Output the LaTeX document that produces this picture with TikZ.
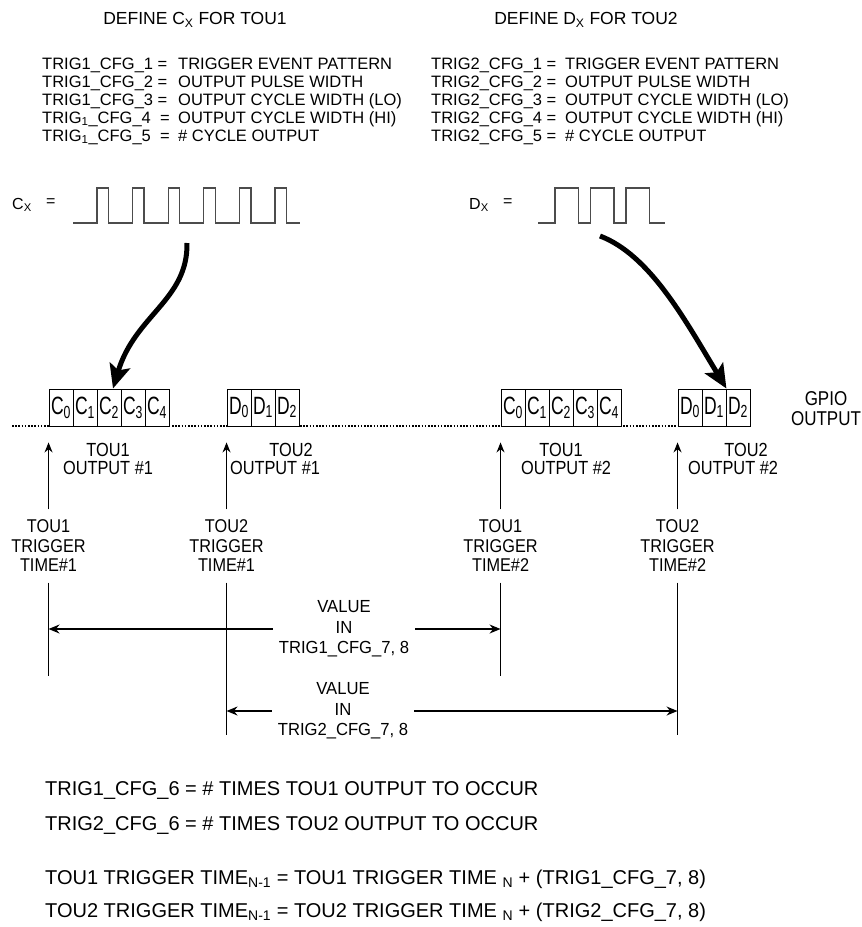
\documentclass[tikz,border=0pt]{standalone}
\usepackage{fontspec}
\setmainfont{Liberation Sans}
\usepackage{graphicx}
\usetikzlibrary{arrows.meta,calc}

\newcommand{\nar}[2]{\scalebox{#1}[1]{#2}}

\tikzset{
	cfgtext/.style={anchor=west, inner sep=0pt, text height=12pt, text depth=3.5pt, font=\fontsize{16.5}{18}\selectfont},
	titletext/.style={inner sep=0pt, font=\fontsize{17.5}{19}\selectfont},
	wavelabel/.style={anchor=west, inner sep=0pt, font=\fontsize{16}{18}\selectfont},
	wave/.style={line width=1.3pt, color=black!70, line join=miter},
	bigarrow/.style={line width=5pt, -{Stealth[length=24pt,width=21pt,inset=5pt]}},
	cell/.style={draw, fill=white, line width=0.9pt, minimum width=24pt, minimum height=37pt, inner sep=0pt, font=\fontsize{25}{25}\selectfont},
	gpioline/.style={line width=1.3pt, dash pattern=on 1.6pt off 1.6pt},
	outlabel/.style={inner sep=0pt, font=\fontsize{19}{20}\selectfont},
	trig/.style={align=center, inner xsep=2pt, inner ysep=10.5pt, font=\fontsize{18.5}{19.5}\selectfont},
	valtext/.style={align=center, inner xsep=6pt, inner ysep=2pt, font=\fontsize{17.5}{20.5}\selectfont},
	timeline/.style={line width=1.2pt},
	uparrow/.style={line width=1.2pt, -{Stealth[length=10pt,width=8pt]}},
	spanarrow/.style={line width=1.3pt, -{Stealth[length=11pt,width=9pt]}},
	bottomtext/.style={anchor=west, inner sep=0pt, text height=14.5pt, text depth=4pt, font=\fontsize{20}{22}\selectfont}
}

\begin{document}
\begin{tikzpicture}[x=1pt, y=-1pt]
	%%%%% START %%%%%
	\useasboundingbox (0,0) rectangle (862,927);
	
	% definitions of C_x and D_x
	\node[titletext] (titleC) at (195,20) {DEFINE C\textsubscript{X} FOR TOU1};
	\node[titletext] (titleD) at (586,20) {DEFINE D\textsubscript{X} FOR TOU2};
	
	\node[cfgtext] (keyC1) at (42,65) {TRIG1\_CFG\_1 =};
	\node[cfgtext] (keyC2) at (42,83) {TRIG1\_CFG\_2 =};
	\node[cfgtext] (keyC3) at (42,101) {TRIG1\_CFG\_3 =};
	\node[cfgtext] (keyC4) at (42,119) {TRIG\textsubscript{1}\_CFG\_4 \ =};
	\node[cfgtext] (keyC5) at (42,137) {TRIG\textsubscript{1}\_CFG\_5 \ =};
	\node[cfgtext] (valC1) at (178,65) {TRIGGER EVENT PATTERN};
	\node[cfgtext] (valC2) at (178,83) {OUTPUT PULSE WIDTH};
	\node[cfgtext] (valC3) at (178,101) {OUTPUT CYCLE WIDTH (LO)};
	\node[cfgtext] (valC4) at (178,119) {OUTPUT CYCLE WIDTH (HI)};
	\node[cfgtext] (valC5) at (178,137) {\# CYCLE OUTPUT};
	
	\node[cfgtext] (keyD1) at (431,65) {TRIG2\_CFG\_1 =};
	\node[cfgtext] (keyD2) at (431,83) {TRIG2\_CFG\_2 =};
	\node[cfgtext] (keyD3) at (431,101) {TRIG2\_CFG\_3 =};
	\node[cfgtext] (keyD4) at (431,119) {TRIG2\_CFG\_4 =};
	\node[cfgtext] (keyD5) at (431,137) {TRIG2\_CFG\_5 =};
	\node[cfgtext] (valD1) at (565,65) {TRIGGER EVENT PATTERN};
	\node[cfgtext] (valD2) at (565,83) {OUTPUT PULSE WIDTH};
	\node[cfgtext] (valD3) at (565,101) {OUTPUT CYCLE WIDTH (LO)};
	\node[cfgtext] (valD4) at (565,119) {OUTPUT CYCLE WIDTH (HI)};
	\node[cfgtext] (valD5) at (565,137) {\# CYCLE OUTPUT};
	
	% waveforms
	\node[wavelabel] (cxlab) at (12,205) {C\textsubscript{X}};
	\node[wavelabel] (cxeq) at (46,203) {=};
	\draw[wave] (73,223) \foreach \i in {0,...,5} { -- ({97+35.6*\i},223) -- ++(0,-35) -- ++(11.5,0) -- ++(0,35) } -- (300,223);
	
	\node[wavelabel] (dxlab) at (469,205) {D\textsubscript{X}};
	\node[wavelabel] (dxeq) at (503,203) {=};
	\draw[wave] (538,223) \foreach \i in {0,...,2} { -- ({555+35.5*\i},223) -- ++(0,-35) -- ++(23.5,0) -- ++(0,35) } -- (665,223);
	
	\coordinate (cxsrc) at (187,243);
	\coordinate (dxsrc) at (600,236);
	
	% gpio output line and registers
	\coordinate (lineL) at (12,426);
	\draw[gpioline] (lineL) -- (678,426);
	
	\foreach \i in {0,...,4} \node[cell] (cA\i) at ({61+24*\i},407.5) {\nar{0.7}{C\textsubscript{\i}}};
	\foreach \i in {0,...,2} \node[cell] (dA\i) at ({239+24*\i},407.5) {\nar{0.7}{D\textsubscript{\i}}};
	\foreach \i in {0,...,4} \node[cell] (cB\i) at ({513+24*\i},407.5) {\nar{0.7}{C\textsubscript{\i}}};
	\foreach \i in {0,...,2} \node[cell] (dB\i) at ({690+24*\i},407.5) {\nar{0.7}{D\textsubscript{\i}}};
	
	\node[align=center, inner sep=0pt, font=\fontsize{20}{20}\selectfont] (gpio) at (826,409) {\nar{0.85}{GPIO}\\\nar{0.85}{OUTPUT}};
	
	\draw[bigarrow] (cxsrc) .. controls (188,300) and (135,315) .. ([xshift=4pt]cA2.north);
	\draw[bigarrow] (dxsrc) .. controls (650,255) and (685,320) .. (dB1.north east);
	
	% output labels
	\node[outlabel] (outA1t) at (108,450) {\nar{0.86}{TOU1}};
	\node[outlabel] (outA1b) at (108,468) {\nar{0.86}{OUTPUT \#1}};
	\node[outlabel] (outA2t) at (291,450) {\nar{0.86}{TOU2}};
	\node[outlabel] (outA2b) at (275,468) {\nar{0.86}{OUTPUT \#1}};
	\node[outlabel] (outB1t) at (561,450) {\nar{0.86}{TOU1}};
	\node[outlabel] (outB1b) at (566,468) {\nar{0.86}{OUTPUT \#2}};
	\node[outlabel] (outB2t) at (746,450) {\nar{0.86}{TOU2}};
	\node[outlabel] (outB2b) at (733,468) {\nar{0.86}{OUTPUT \#2}};
	
	% trigger times
	\node[trig] (trgA1) at (cA0.south west |- 0,546) {\nar{0.88}{TOU1}\\\nar{0.88}{TRIGGER}\\\nar{0.88}{TIME\#1}};
	\node[trig] (trgA2) at (dA0.south west |- 0,546) {\nar{0.88}{TOU2}\\\nar{0.88}{TRIGGER}\\\nar{0.88}{TIME\#1}};
	\node[trig] (trgB1) at (cB0.south west |- 0,546) {\nar{0.88}{TOU1}\\\nar{0.88}{TRIGGER}\\\nar{0.88}{TIME\#2}};
	\node[trig] (trgB2) at (dB0.south west |- 0,546) {\nar{0.88}{TOU2}\\\nar{0.88}{TRIGGER}\\\nar{0.88}{TIME\#2}};
	
	\draw[uparrow] (trgA1.north) -- ([yshift=-16pt]cA0.south west);
	\draw[uparrow] (trgA2.north) -- ([yshift=-16pt]dA0.south west);
	\draw[uparrow] (trgB1.north) -- ([yshift=-16pt]cB0.south west);
	\draw[uparrow] (trgB2.north) -- ([yshift=-16pt]dB0.south west);
	
	\coordinate (endA) at (0,676);
	\coordinate (endB) at (0,735);
	\draw[timeline] (trgA1.south) -- (trgA1.south |- endA);
	\draw[timeline] (trgA2.south) -- (trgA2.south |- endB);
	\draw[timeline] (trgB1.south) -- (trgB1.south |- endA);
	\draw[timeline] (trgB2.south) -- (trgB2.south |- endB);
	
	% periods
	\node[valtext] (valA) at (344,629) {\nar{0.95}{VALUE}\\\nar{0.95}{IN}\\\nar{0.95}{TRIG1\_CFG\_7, 8}};
	\node[valtext] (valB) at (343,711) {\nar{0.95}{VALUE}\\\nar{0.95}{IN}\\\nar{0.95}{TRIG2\_CFG\_7, 8}};
	\draw[spanarrow] (valA.west) -- (valA.west -| trgA1.south);
	\draw[spanarrow] (valA.east) -- (valA.east -| trgB1.south);
	\draw[spanarrow] (valB.west) -- (valB.west -| trgA2.south);
	\draw[spanarrow] (valB.east) -- (valB.east -| trgB2.south);
	
	% equations
	\node[bottomtext] (occA) at (45,790) {TRIG1\_CFG\_6 = \# TIMES TOU1 OUTPUT TO OCCUR};
	\node[bottomtext] (occB) at (45,825) {TRIG2\_CFG\_6 = \# TIMES TOU2 OUTPUT TO OCCUR};
	\node[bottomtext] (eqA) at (45,879) {TOU1 TRIGGER TIME\textsubscript{N-1} = TOU1 TRIGGER TIME \textsubscript{N} + (TRIG1\_CFG\_7, 8)};
	\node[bottomtext] (eqB) at (45,912) {TOU2 TRIGGER TIME\textsubscript{N-1} = TOU2 TRIGGER TIME \textsubscript{N} + (TRIG2\_CFG\_7, 8)};
	
	%%%%% END %%%%%
\end{tikzpicture}
\end{document}
